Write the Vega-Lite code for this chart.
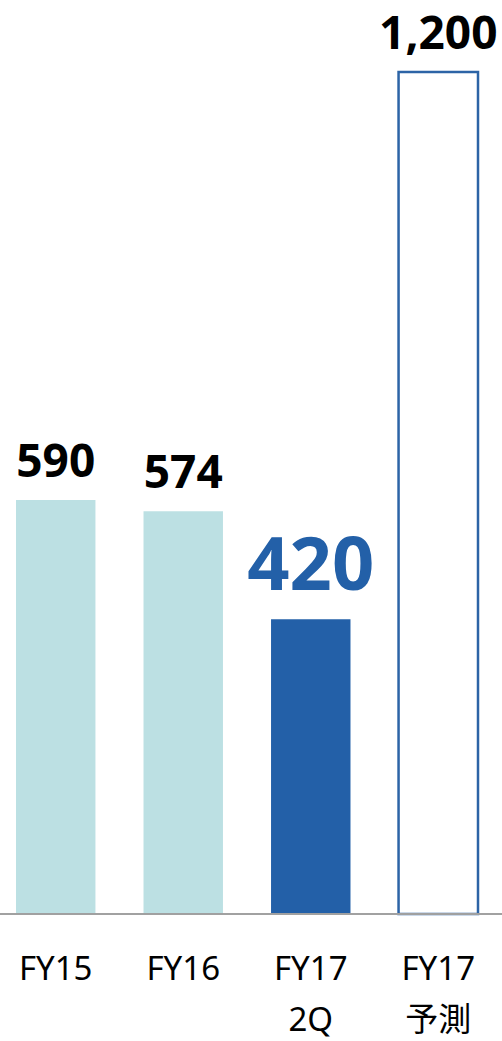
{
  "$schema": "https://vega.github.io/schema/vega-lite/v6.json",
  "width": 502,
  "height": 914,
  "autosize": {"type": "none"},
  "padding": {"top": 0, "left": 0, "right": 0, "bottom": 127},
  "config": {"view": {"stroke": null}, "font": "Noto Sans"},
  "data": {"values": [
    {"period": "FY15", "value": 590},
    {"period": "FY16", "value": 574},
    {"period": "FY17 2Q", "value": 420},
    {"period": "FY17 予測", "value": 1200}
  ]},
  "encoding": {
    "x": {
      "field": "period", "type": "nominal", "sort": null,
      "scale": {"range": [16, 478], "paddingInner": 0.377, "paddingOuter": 0},
      "axis": {
        "title": null, "domain": false, "ticks": false, "tickSize": 0,
        "labelAngle": 0, "labelFontSize": 33, "labelColor": "#000000",
        "labelFont": "Noto Sans, Noto Sans CJK JP", "labelPadding": 39,
        "labelBaseline": "top", "labelLineHeight": 51,
        "labelExpr": "split(datum.label, ' ')"
      }
    },
    "y": {
      "field": "value", "type": "quantitative",
      "scale": {"domain": [0, 1302.6], "nice": false, "zero": true},
      "axis": null
    }
  },
  "layer": [
    {
      "mark": {"type": "bar", "strokeWidth": 2.5},
      "encoding": {
        "fill": {
          "field": "period", "type": "nominal", "legend": null,
          "scale": {"domain": ["FY15", "FY16", "FY17 2Q", "FY17 予測"], "range": ["#BCE0E3", "#BCE0E3", "#2360A8", "#FFFFFF"]}
        },
        "stroke": {
          "field": "period", "type": "nominal", "legend": null,
          "scale": {"domain": ["FY15", "FY16", "FY17 2Q", "FY17 予測"], "range": ["transparent", "transparent", "transparent", "#2C64A6"]}
        }
      }
    },
    {
      "mark": {"type": "rule", "color": "#A0A0A0", "strokeWidth": 1.5},
      "encoding": {"y": {"datum": 0}, "x": null}
    },
    {
      "mark": {"type": "text", "fontWeight": "bold", "baseline": "bottom", "dy": -13, "font": "Noto Sans"},
      "encoding": {
        "text": {"field": "value", "type": "quantitative", "format": ","},
        "color": {
          "condition": {"test": "datum.period === 'FY17 2Q'", "value": "#2360A8"},
          "value": "#000000"
        },
        "size": {
          "condition": {"test": "datum.period === 'FY17 2Q'", "value": 74},
          "value": 46
        }
      }
    }
  ]
}
